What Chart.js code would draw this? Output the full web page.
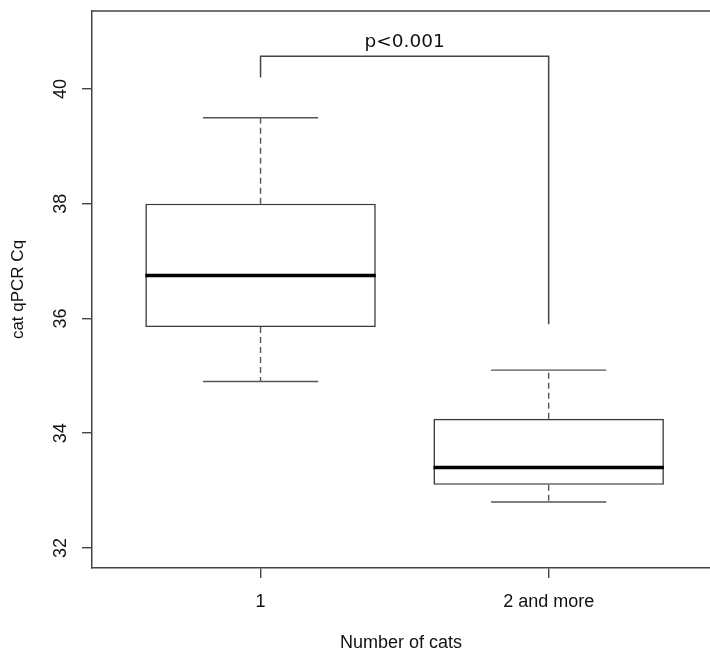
<!DOCTYPE html>
<html>
<head>
<meta charset="utf-8">
<script src="https://cdn.jsdelivr.net/npm/chart.js@4.4.1/dist/chart.umd.min.js"></script>
<style>
  html, body { margin: 0; padding: 0; background: #fff; }
</style>
</head>
<body>
<canvas id="chart" width="710" height="655"></canvas>
<script>
// groups on the x axis
let groupPos = [1, 2]
let groupLabels = ['1', '2 and more']

// box statistics
let whiskerLow = [34.9, 32.8]
let q1 = [35.85, 33.1]
let medians = [36.75, 33.4]
let q3 = [38.0, 34.25]
let whiskerHigh = [39.5, 35.1]

let yTicks = [32, 34, 36, 38, 40]

// significance bracket between the two groups
let bracketTop = 40.57
let bracketEnds = [40.2, 35.9]
let bracketText = 'p<0.001'

const lineCol = '#3a3a3a'

function seg(ctx, x1, y1, x2, y2) {
  ctx.beginPath()
  ctx.moveTo(x1, y1)
  ctx.lineTo(x2, y2)
  ctx.stroke()
}

// whiskers, caps, medians, the bracket and the top edge of the frame
const boxExtras = {
  id: 'boxExtras',
  afterDatasetsDraw(chart) {
    const ctx = chart.ctx
    const xs = chart.scales.x
    const ys = chart.scales.y
    const area = chart.chartArea
    ctx.save()
    for (let i = 0; i < groupPos.length; i++) {
      let cx = xs.getPixelForValue(groupPos[i])
      let halfBox = xs.getPixelForValue(groupPos[i] + 0.4) - cx
      let halfCap = halfBox / 2

      ctx.strokeStyle = '#555'
      ctx.lineWidth = 1.4
      ctx.setLineDash([6, 4])
      seg(ctx, cx, ys.getPixelForValue(q3[i]), cx, ys.getPixelForValue(whiskerHigh[i]))
      seg(ctx, cx, ys.getPixelForValue(q1[i]), cx, ys.getPixelForValue(whiskerLow[i]))
      ctx.setLineDash([])

      seg(ctx, cx - halfCap, ys.getPixelForValue(whiskerHigh[i]), cx + halfCap, ys.getPixelForValue(whiskerHigh[i]))
      seg(ctx, cx - halfCap, ys.getPixelForValue(whiskerLow[i]), cx + halfCap, ys.getPixelForValue(whiskerLow[i]))

      ctx.strokeStyle = '#000'
      ctx.lineWidth = 3.5
      seg(ctx, cx - halfBox, ys.getPixelForValue(medians[i]), cx + halfBox, ys.getPixelForValue(medians[i]))
    }

    // bracket
    let bx1 = xs.getPixelForValue(groupPos[0])
    let bx2 = xs.getPixelForValue(groupPos[1])
    let by = ys.getPixelForValue(bracketTop)
    ctx.strokeStyle = '#444'
    ctx.lineWidth = 1.5
    ctx.beginPath()
    ctx.moveTo(bx1, ys.getPixelForValue(bracketEnds[0]))
    ctx.lineTo(bx1, by)
    ctx.lineTo(bx2, by)
    ctx.lineTo(bx2, ys.getPixelForValue(bracketEnds[1]))
    ctx.stroke()

    ctx.fillStyle = '#111'
    ctx.font = '18.5px "DejaVu Sans"'
    ctx.textAlign = 'center'
    ctx.textBaseline = 'alphabetic'
    ctx.fillText(bracketText, (bx1 + bx2) / 2, by - 9)

    // top of the frame (R box)
    ctx.strokeStyle = '#444'
    ctx.lineWidth = 1.5
    seg(ctx, area.left, area.top, area.right, area.top)
    ctx.restore()
  }
}

const axisFont = { family: 'Liberation Sans', size: 18 }

new Chart(document.getElementById('chart'), {
  type: 'bar',
  data: {
    datasets: [{
      data: groupPos.map(function (g, i) { return { x: g, y: [q1[i], q3[i]] } }),
      backgroundColor: '#ffffff',
      borderColor: lineCol,
      borderWidth: 1.6,
      borderSkipped: false,
      categoryPercentage: 1.0,
      barPercentage: 0.8
    }]
  },
  options: {
    responsive: false,
    animation: false,
    events: [],
    layout: { padding: { top: 11, left: 0, right: 0, bottom: 0 } },
    plugins: {
      legend: { display: false },
      tooltip: { enabled: false }
    },
    scales: {
      x: {
        type: 'linear',
        min: 0.415,
        max: 2.56,
        offset: false,
        afterBuildTicks: function (s) { s.ticks = groupPos.map(function (v) { return { value: v } }) },
        afterFit: function (s) { s.height = 87; s.paddingLeft = 0; s.paddingRight = 0 },
        grid: { offset: false, drawOnChartArea: false, tickLength: 10, color: '#444', lineWidth: 1.4 },
        border: { color: '#444', width: 1.5 },
        ticks: {
          padding: 13,
          color: '#111',
          font: axisFont,
          maxRotation: 0,
          callback: function (v) { return groupLabels[groupPos.indexOf(v)] }
        },
        title: {
          display: true,
          text: 'Number of cats',
          color: '#111',
          font: axisFont,
          padding: { top: 0, bottom: 1 }
        }
      },
      y: {
        min: 31.65,
        max: 41.36,
        afterBuildTicks: function (s) { s.ticks = yTicks.map(function (v) { return { value: v } }) },
        afterFit: function (s) { s.width = 92; s.paddingTop = 0; s.paddingBottom = 0 },
        grid: { drawOnChartArea: false, tickLength: 10, color: '#444', lineWidth: 1.4 },
        border: { color: '#444', width: 1.5 },
        ticks: {
          minRotation: 90,
          maxRotation: 90,
          crossAlign: 'center',
          padding: 11,
          color: '#111',
          font: axisFont
        },
        title: {
          display: true,
          text: 'cat qPCR Cq',
          color: '#111',
          font: { family: 'Liberation Sans', size: 17 },
          padding: { top: 8, bottom: 0 }
        }
      }
    }
  },
  plugins: [boxExtras]
})
</script>
</body>
</html>
